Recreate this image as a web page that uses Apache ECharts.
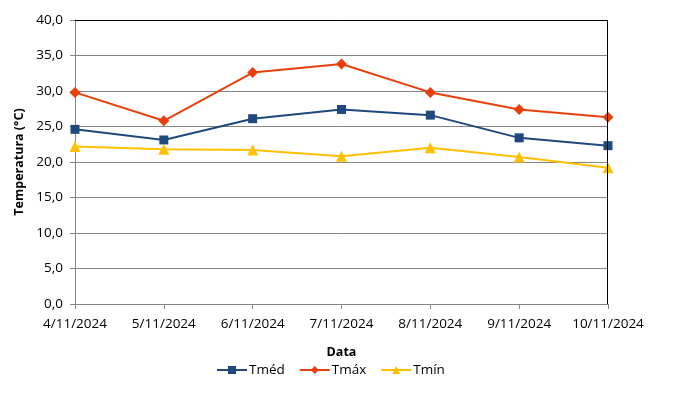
<!DOCTYPE html>
<html>
<head>
<meta charset="utf-8">
<script src="https://cdn.jsdelivr.net/npm/echarts@6/dist/echarts.min.js"></script>
<style>
  html, body { margin: 0; padding: 0; background: #fff; }
  #chart { width: 682px; height: 400px; }
</style>
</head>
<body>
<div id="chart"></div>
<script>
    var dias = ['4/11/2024', '5/11/2024', '6/11/2024', '7/11/2024', '8/11/2024', '9/11/2024', '10/11/2024'];
    var tmed = [24.6, 23.1, 26.1, 27.4, 26.6, 23.4, 22.3];
    var tmax = [29.8, 25.8, 32.6, 33.8, 29.8, 27.4, 26.3];
    var tmin = [22.2, 21.8, 21.7, 20.8, 22.0, 20.7, 19.2];

    var fonte = '"Open Sans", "DejaVu Sans", sans-serif';
    var myChart = echarts.init(document.getElementById('chart'));
    let option = {
        backgroundColor: '#fff',
        textStyle: {fontFamily: fonte},
        animation: false,
        grid: {left: 75, right: 74, top: 20, bottom: 96},
        legend: {
            data: ['Tméd', 'Tmáx', 'Tmín'],
            bottom: 18,
            left: 211,
            itemWidth: 30,
            itemHeight: 10,
            itemGap: 14,
            textStyle: {color: '#000', fontSize: 13.5, fontFamily: fonte, padding: [0, 0, 0, -3]}
        },
        xAxis: {
            type: 'category',
            data: dias,
            boundaryGap: false,
            name: 'Data',
            nameLocation: 'middle',
            nameGap: 42,
            nameTextStyle: {color: '#000', fontWeight: 'bold', fontSize: 12.5, fontFamily: fonte},
            axisLine: {lineStyle: {color: '#868686', width: 1}},
            axisTick: {show: true, length: 5, inside: false, alignWithLabel: true, lineStyle: {color: '#868686'}},
            axisLabel: {color: '#000', fontSize: 13.5, margin: 13, fontFamily: fonte, interval: 0},
            splitLine: {show: false}
        },
        yAxis: {
            type: 'value',
            min: 0,
            max: 40,
            interval: 5,
            name: 'Temperatura (°C)',
            nameLocation: 'middle',
            nameGap: 47,
            nameTextStyle: {color: '#000', fontWeight: 'bold', fontSize: 12.5, fontFamily: fonte},
            axisLine: {show: true, lineStyle: {color: '#868686', width: 1}},
            axisTick: {show: true, length: 5, lineStyle: {color: '#868686'}},
            axisLabel: {
                color: '#000', fontSize: 13.5, margin: 12, fontFamily: fonte,
                formatter: function (v) { return v.toFixed(1).replace('.', ','); }
            },
            splitLine: {lineStyle: {color: '#868686', width: 1}}
        },
        series: [
            {
                name: 'Tméd',
                type: 'line',
                data: tmed,
                symbol: 'rect',
                symbolSize: 9,
                lineStyle: {width: 2, color: '#1F497D'},
                itemStyle: {color: '#1F497D'}
            },
            {
                name: 'Tmáx',
                type: 'line',
                data: tmax,
                symbol: 'diamond',
                symbolSize: 11,
                lineStyle: {width: 2, color: '#E8400C'},
                itemStyle: {color: '#E8400C'}
            },
            {
                name: 'Tmín',
                type: 'line',
                data: tmin,
                symbol: 'triangle',
                symbolSize: 11,
                lineStyle: {width: 2, color: '#FFC000'},
                itemStyle: {color: '#FFC000'}
            }
        ],
        graphic: [
            {
                type: 'polyline',
                z: 10,
                shape: {points: [[75, 20.5], [607.5, 20.5], [607.5, 304]]},
                style: {stroke: '#000', lineWidth: 1, fill: null}
            }
        ]
    };
    myChart.setOption(option);
</script>
</body>
</html>
